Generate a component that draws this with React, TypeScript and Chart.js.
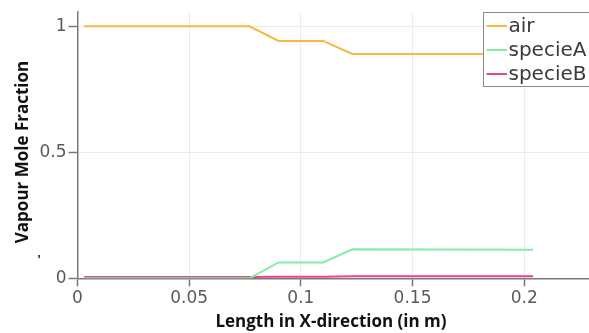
import React, { useEffect, useRef } from "react";
import { Chart, registerables } from "chart.js";

Chart.register(...registerables);

const xPositions = [0.003, 0.077, 0.090, 0.110, 0.123, 0.204];
const airValues = [1.0, 1.0, 0.942, 0.942, 0.89, 0.89];
const specieAValues = [0.0, 0.0, 0.063, 0.063, 0.115, 0.113];
const specieBValues = [0.005, 0.005, 0.006, 0.006, 0.008, 0.008];
const seriesNames = ["air", "specieA", "specieB"];
const seriesColors = ["#f6b940", "#82eea0", "#e6458e"];
const xTickValues = [0, 0.05, 0.1, 0.15, 0.2];
const xTickLabels = ["0", "0.05", "0.1", "0.15", "0.2"];
const yTickValues = [0, 0.5, 1];
const yTickLabels = ["0", "0.5", "1"];
const xTitle = "Length in X-direction (in m)";
const yTitle = "Vapour Mole Fraction";

const W = 589;
const H = 333;

export default function App() {
  const ref = useRef<HTMLCanvasElement | null>(null);
  useEffect(() => {
    const canvas = ref.current!;
    const seriesValues = [airValues, specieAValues, specieBValues];
    const datasets = seriesNames.map((name, i) => ({
      label: name,
      data: xPositions.map((x, j) => ({ x, y: seriesValues[i][j] })),
      borderColor: seriesColors[i],
      backgroundColor: seriesColors[i],
      borderWidth: 2,
      pointRadius: 0,
      tension: 0,
      fill: false,
    }));

    const overlay = {
      id: "overlay",
      afterDraw(chart: any) {
        const ctx = chart.ctx as CanvasRenderingContext2D;
        ctx.save();
        // legend
        const lx = 483.5, ly = 12.5, lh = 74;
        ctx.fillStyle = "#ffffff";
        ctx.fillRect(lx, ly, W - lx + 5, lh);
        ctx.strokeStyle = "#8a8a8a";
        ctx.lineWidth = 1;
        ctx.strokeRect(lx, ly, W - lx + 5, lh);
        const rows = [26, 50, 74];
        ctx.font = "20px 'DejaVu Sans'";
        ctx.textBaseline = "middle";
        ctx.textAlign = "left";
        seriesNames.forEach((n, i) => {
          ctx.strokeStyle = seriesColors[i];
          ctx.lineWidth = 2;
          ctx.beginPath();
          ctx.moveTo(486.5, rows[i]);
          ctx.lineTo(507, rows[i]);
          ctx.stroke();
          ctx.fillStyle = "#3a3a3a";
          ctx.fillText(n, 508.5, rows[i] + 1);
        });
        // axis titles
        ctx.fillStyle = "#111111";
        ctx.font = "bold 17px 'Open Sans'";
        ctx.textAlign = "center";
        ctx.textBaseline = "middle";
        ctx.fillText(xTitle, 331, 322);
        ctx.save();
        ctx.translate(23, 152);
        ctx.rotate(-Math.PI / 2);
        ctx.fillText(yTitle, 0, 0);
        ctx.restore();
        ctx.font = "bold 12px 'Open Sans'";
        ctx.fillText("'", 39, 261);
        ctx.restore();
      },
    };

    const chart = new Chart(canvas, {
      type: "line",
      data: { datasets },
      plugins: [overlay],
      options: {
        animation: false,
        responsive: false,
        devicePixelRatio: 1,
        layout: { padding: { top: 10, right: 0, left: 0, bottom: 0 } },
        plugins: { legend: { display: false }, tooltip: { enabled: false } },
        scales: {
          x: {
            type: "linear",
            min: 0,
            max: 0.229,
            afterFit: (s: any) => { s.height = H - 278.3; },
            afterBuildTicks: (s: any) => { s.ticks = xTickValues.map((v) => ({ value: v })); },
            ticks: {
              callback: (v: any) => { const i = xTickValues.indexOf(Number(v)); return i >= 0 ? xTickLabels[i] : ""; },
              font: { family: "DejaVu Sans", size: 17 },
              color: "#5a5a5a",
              padding: 2,
              maxRotation: 0,
            },
            grid: { color: "#ececec", lineWidth: 1, tickColor: "#7a7a7a", tickLength: 8, tickWidth: 1.5 },
            border: { color: "#7a7a7a", width: 1.5 },
          },
          y: {
            type: "linear",
            min: 0,
            max: 1.056,
            afterFit: (s: any) => { s.width = 77.5; },
            afterBuildTicks: (s: any) => { s.ticks = yTickValues.map((v) => ({ value: v })); },
            ticks: {
              callback: (v: any) => { const i = yTickValues.indexOf(Number(v)); return i >= 0 ? yTickLabels[i] : ""; },
              font: { family: "DejaVu Sans", size: 17 },
              color: "#5a5a5a",
              padding: 2,
            },
            grid: { color: "#ececec", lineWidth: 1, tickColor: "#7a7a7a", tickLength: 9, tickWidth: 1.5 },
            border: { color: "#7a7a7a", width: 1.5 },
          },
        },
      },
    } as any);
    return () => chart.destroy();
  }, []);

  return (
    <div style={{ position: "absolute", left: 0, top: 0, width: W, height: H, background: "#ffffff" }}>
      <canvas ref={ref} width={W} height={H} style={{ display: "block", width: W, height: H }} />
    </div>
  );
}
